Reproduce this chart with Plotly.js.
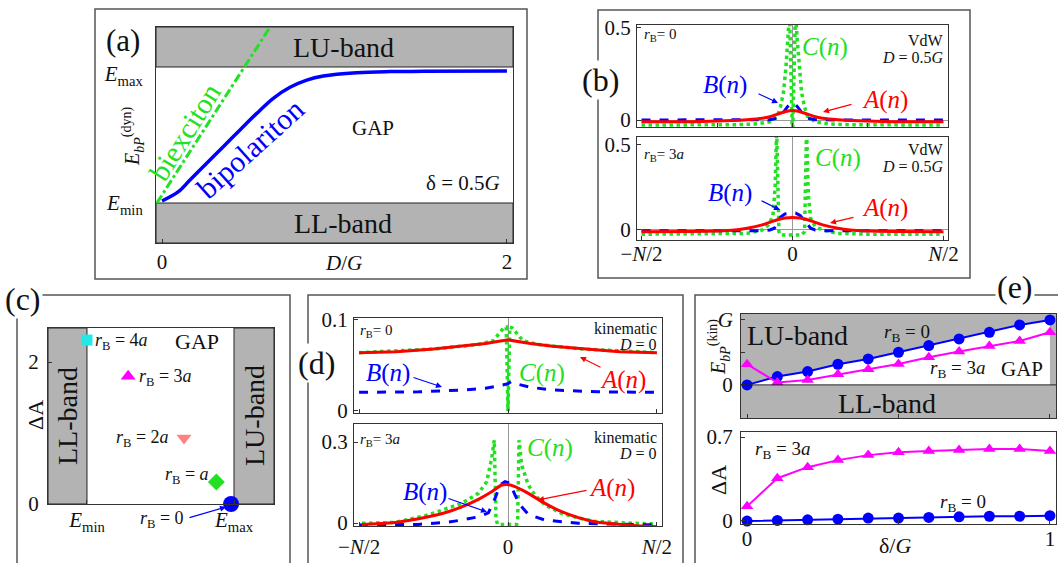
<!DOCTYPE html>
<html><head><meta charset="utf-8">
<script src="https://cdn.plot.ly/plotly-3.0.1.min.js"></script>
<style>html,body{margin:0;padding:0;background:#fff}#chart{width:1058px;height:563px}</style>
</head><body><div id="chart"></div>
<script>
// ================= DATA =================
// (a) dynamic bound-state energy vs D/G  (Emin = 0, Emax = 1)
const aD_bipol = [0, 0.095, 0.162, 0.259, 0.355, 0.452, 0.549, 0.645, 0.742, 0.839, 0.935, 1.128, 1.322, 1.515, 2.0];
const aE_bipol = [0.015, 0.083, 0.169, 0.292, 0.414, 0.537, 0.659, 0.77, 0.851, 0.904, 0.934, 0.958, 0.966, 0.968, 0.971];
const aD_biex = [-0.03, 0.65];
const aE_biex = [0.0, 1.34];
const aTickVals = [0, 0.95];

// (b) VdW, D = 0.5G ; n in units of N/2
const bTop_nA = [-1,-0.6,-0.4,-0.3,-0.2,-0.15,-0.1,-0.05,0,0.05,0.1,0.15,0.2,0.3,0.4,0.6,1];
const bTop_A  = [-0.01,-0.008,-0.003,0.002,0.01,0.018,0.032,0.045,0.052,0.045,0.032,0.018,0.01,0.002,-0.003,-0.008,-0.01];
const bTop_nB = [-1,-0.3,-0.15,-0.1,-0.07,-0.04,-0.02,0,0.02,0.04,0.07,0.1,0.15,0.3,1];
const bTop_B  = [0,0,0.002,0.01,0.03,0.065,0.085,0.092,0.085,0.065,0.03,0.01,0.002,0,0];
const bTop_nC = [-1,-0.6,-0.4,-0.25,-0.15,-0.1,-0.08,-0.06,-0.045,-0.03,-0.02,0,0.02,0.03,0.045,0.06,0.08,0.1,0.15,0.25,0.4,0.6,1];
const bTop_C  = [-0.027,-0.027,-0.026,-0.022,-0.01,0.02,0.07,0.15,0.27,0.45,0.6,-0.1,0.6,0.45,0.27,0.15,0.07,0.02,-0.01,-0.022,-0.026,-0.027,-0.027];

const bBot_nA = [-1,-0.6,-0.4,-0.3,-0.2,-0.15,-0.1,-0.05,0,0.05,0.1,0.15,0.2,0.3,0.4,0.6,1];
const bBot_A  = [-0.01,-0.008,-0.002,0.01,0.03,0.045,0.06,0.07,0.074,0.07,0.06,0.045,0.03,0.01,-0.002,-0.008,-0.01];
const bBot_nB = [-1,-0.5,-0.2,-0.15,-0.12,-0.1,-0.08,-0.05,-0.02,0,0.02,0.05,0.08,0.1,0.12,0.15,0.2,0.5,1];
const bBot_B  = [-0.005,-0.005,-0.004,0.0,0.01,0.04,0.075,0.095,0.1,0.1,0.1,0.085,0.055,0.03,0.01,0.0,-0.004,-0.005,-0.005];
const bBot_nC = [-1,-0.5,-0.3,-0.2,-0.16,-0.13,-0.115,-0.105,-0.09,-0.08,0,0.06,0.08,0.093,0.105,0.12,0.15,0.2,0.3,0.5,1];
const bBot_C  = [-0.025,-0.025,-0.02,0.0,0.03,0.08,0.25,0.6,-0.01,-0.03,-0.03,-0.03,-0.01,0.6,0.2,0.07,0.02,0.0,-0.02,-0.025,-0.025];

// (c) Delta A vs bound-state energy (Emin = 0, Emax = 1)
const cLabels = ['rB = 4a','rB = 3a','rB = 2a','rB = a','rB = 0'];
const cE  = [0.0, 0.28, 0.66, 0.88, 0.98];
const cDA = [2.31, 1.8, 0.93, 0.31, 0.0];

// (d) kinematic, D = 0
const dTop_nA = [-1,-0.75,-0.5,-0.3,-0.15,0,0.15,0.3,0.5,0.75,1];
const dTop_A  = [0.064,0.065,0.068,0.071,0.074,0.078,0.074,0.071,0.068,0.065,0.064];
const dTop_nB = [-1,-0.6,-0.3,-0.15,-0.05,0,0.02,0.05,0.15,0.3,0.6,1];
const dTop_B  = [0.0205,0.021,0.023,0.025,0.028,0.03,0.032,0.03,0.026,0.023,0.021,0.0205];
const dTop_nC = [-1,-0.5,-0.2,-0.1,-0.06,-0.03,-0.012,0,0.012,0.03,0.06,0.1,0.2,0.5,1];
const dTop_C  = [0.064,0.068,0.073,0.077,0.085,0.091,0.092,0,0.092,0.091,0.085,0.077,0.073,0.068,0.064];

const dBot_nA = [-0.982,-0.758,-0.535,-0.423,-0.311,-0.199,-0.11,-0.042,-0.009,0.047,0.136,0.248,0.36,0.472,0.584,0.807,1.0];
const dBot_A  = [-0.005,0.002,0.023,0.038,0.06,0.088,0.116,0.141,0.143,0.135,0.11,0.073,0.042,0.02,0.005,-0.007,-0.014];
const dBot_nB = [-1.0,-0.602,-0.423,-0.311,-0.199,-0.132,-0.087,-0.053,-0.02,0.013,0.047,0.081,0.136,0.248,0.472,1.0];
const dBot_B  = [-0.007,-0.005,0.002,0.011,0.023,0.038,0.091,0.141,0.153,0.148,0.104,0.067,0.032,0.011,-0.001,-0.007];
const dBot_nC = [-0.98,-0.758,-0.535,-0.423,-0.311,-0.199,-0.143,-0.11,-0.092,-0.081,-0.07,0.058,0.065,0.074,0.092,0.136,0.181,0.248,0.36,0.472,0.584,0.807,0.998];
const dBot_C  = [-0.001,0.002,0.03,0.052,0.073,0.11,0.153,0.239,0.307,0.017,-0.005,-0.005,0.017,0.307,0.215,0.141,0.104,0.067,0.036,0.019,0.006,0.0,-0.004];

// (e) vs delta/G
const eDelta   = [0,0.1,0.2,0.3,0.4,0.5,0.6,0.7,0.8,0.9,1.0];
const eE_rb0   = [0,0.128,0.205,0.318,0.4,0.503,0.605,0.708,0.81,0.923,1.0];
const eE_rb3   = [0.318,0.036,0.077,0.164,0.241,0.323,0.426,0.513,0.6,0.677,0.81];
const eDA_rb0  = [-0.005,0.0,0.005,0.01,0.02,0.02,0.025,0.03,0.035,0.035,0.04];
const eDA_rb3  = [0.118,0.354,0.447,0.506,0.548,0.573,0.582,0.59,0.6,0.6,0.582];

// ================= LAYOUT HELPERS =================
const W = 1058, H = 563;
const PX = x => x / W, PY = y => 1 - y / H;
const domX = (a, b) => [a / W, b / W];
const domY = (top, bot) => [1 - bot / H, 1 - top / H];
const SERIF = 'Liberation Serif, Times New Roman, serif';
const RED = '#ff0000', BLUE = '#0000ff', GREEN = '#22e022', MAG = '#ff00ff', GRAY = '#b3b3b3';

function axis(extra) {
  return Object.assign({
    showline: true, mirror: true, linecolor: '#333', linewidth: 1,
    showgrid: false, zeroline: false, ticks: 'inside', ticklen: 4, tickcolor: '#333',
    tickfont: {family: SERIF, size: 21, color: '#111'}, fixedrange: true, ticklabelstandoff: 4
  }, extra);
}
function T(x, y, text, size, color, extra) {
  return Object.assign({xref: 'paper', yref: 'paper', x: PX(x), y: PY(y), text: text, showarrow: false,
    font: {family: SERIF, size: size, color: color || '#111'}, xanchor: 'center', yanchor: 'middle'}, extra || {});
}
function ARROW(tx, ty, hx, hy, color) {
  return {xref: 'paper', yref: 'paper', x: PX(hx), y: PY(hy), ax: tx - hx, ay: ty - hy, text: '',
    showarrow: true, arrowhead: 2, arrowsize: 1, arrowwidth: 1.2, arrowcolor: color};
}
const rB = s => '<i>r</i><sub>B</sub>' + s;
const fn = L => '<i>' + L + '</i>(<i>n</i>)';

// ================= TRACES =================
const traces = [];
function line(x, y, xa, ya, color, width, dash, extra) {
  traces.push(Object.assign({type: 'scatter', mode: 'lines', x: x, y: y, xaxis: xa, yaxis: ya,
    line: {color: color, width: width, dash: dash || 'solid'}, hoverinfo: 'skip', showlegend: false}, extra || {}));
}
// (a)
line(aD_biex, aE_biex, 'x', 'y', GREEN, 3, 'dashdot');
line(aD_bipol, aE_bipol, 'x', 'y', BLUE, 3.5, 'solid', {line: {color: BLUE, width: 3.5, shape: 'spline'}});
// (b)
line(bTop_nC, bTop_C, 'x2', 'y2', GREEN, 3.5, 'dot');
line(bTop_nB, bTop_B, 'x2', 'y2', BLUE, 3, 'dash');
line(bTop_nA, bTop_A, 'x2', 'y2', RED, 3, 'solid', {line: {color: RED, width: 3, shape: 'spline'}});
line(bBot_nC, bBot_C, 'x3', 'y3', GREEN, 3.5, 'dot');
line(bBot_nB, bBot_B, 'x3', 'y3', BLUE, 3, 'dash');
line(bBot_nA, bBot_A, 'x3', 'y3', RED, 3, 'solid', {line: {color: RED, width: 3, shape: 'spline'}});
// (c)
const cSym = ['square', 'triangle-up', 'triangle-down', 'diamond', 'circle'];
const cCol = ['#22e8e8', MAG, '#ff8080', GREEN, BLUE];
const cSize = [11, 13, 13, 13, 16];
for (let i = 0; i < cE.length; i++) {
  traces.push({type: 'scatter', mode: 'markers', x: [cE[i]], y: [cDA[i]], xaxis: 'x4', yaxis: 'y4', name: cLabels[i],
    marker: {symbol: cSym[i], color: cCol[i], size: cSize[i]}, cliponaxis: false, hoverinfo: 'skip', showlegend: false});
}
// (d)
line(dTop_nC, dTop_C, 'x5', 'y5', GREEN, 3.5, 'dot');
line(dTop_nB, dTop_B, 'x5', 'y5', BLUE, 3, 'dash');
line(dTop_nA, dTop_A, 'x5', 'y5', RED, 3, 'solid');
line(dBot_nC, dBot_C, 'x6', 'y6', GREEN, 3.5, 'dot');
line(dBot_nB, dBot_B, 'x6', 'y6', BLUE, 3, 'dash');
line(dBot_nA, dBot_A, 'x6', 'y6', RED, 3, 'solid', {line: {color: RED, width: 3, shape: 'spline'}});
// (e) top : white GAP between 0 and the rB=0 line
traces.push({type: 'scatter', mode: 'lines+markers', x: eDelta, y: eE_rb0, xaxis: 'x7', yaxis: 'y7',
  fill: 'tozeroy', fillcolor: '#ffffff', line: {color: BLUE, width: 2}, marker: {color: BLUE, size: 11, symbol: 'circle'},
  cliponaxis: false, hoverinfo: 'skip', showlegend: false});
traces.push({type: 'scatter', mode: 'lines+markers', x: eDelta, y: eE_rb3, xaxis: 'x7', yaxis: 'y7',
  line: {color: MAG, width: 2}, marker: {color: MAG, size: 11, symbol: 'triangle-up'},
  cliponaxis: false, hoverinfo: 'skip', showlegend: false});
traces.push({type: 'scatter', mode: 'lines+markers', x: eDelta, y: eDA_rb3, xaxis: 'x8', yaxis: 'y8',
  line: {color: MAG, width: 2}, marker: {color: MAG, size: 11, symbol: 'triangle-up'},
  cliponaxis: false, hoverinfo: 'skip', showlegend: false});
traces.push({type: 'scatter', mode: 'lines+markers', x: eDelta, y: eDA_rb0, xaxis: 'x8', yaxis: 'y8',
  line: {color: BLUE, width: 2}, marker: {color: BLUE, size: 11, symbol: 'circle'},
  cliponaxis: false, hoverinfo: 'skip', showlegend: false});

// ================= AXES =================
const NL = ['\u2212<i>N</i>/2', '0', '<i>N</i>/2'];
const emT = ['<i>E</i><sub>min</sub>', '<i>E</i><sub>max</sub>'];
const yA = [-0.294, 1.294];
const xC = [-0.265, 1.272];
const layout = {
  width: W, height: H, margin: {l: 0, r: 0, t: 0, b: 0}, paper_bgcolor: '#fff', plot_bgcolor: 'rgba(0,0,0,0)',
  showlegend: false, font: {family: SERIF},
  // (a)
  xaxis: axis({domain: domX(156, 513), range: [-0.035, 2.035], tickvals: [0, 2], ticktext: ['0', '2'], anchor: 'y', ticklabelstandoff: 0}),
  yaxis: axis({domain: domY(27, 243), range: yA, tickvals: aTickVals, ticktext: emT, anchor: 'x', ticks: '', ticklabelstandoff: 8}),
  // (b)
  xaxis2: axis({domain: domX(637, 948), range: [-1.03, 1.03], tickvals: [-0.5, 0, 0.5], showticklabels: false, anchor: 'y2', zeroline: true, zerolinecolor: '#999', zerolinewidth: 1}),
  yaxis2: axis({domain: domY(25, 127), range: [-0.038, 0.516], tickvals: [0, 0.5], ticktext: ['0', '0.5'], anchor: 'x2', zeroline: true, zerolinecolor: '#999', zerolinewidth: 1, ticklabelstandoff: 1}),
  xaxis3: axis({domain: domX(637, 948), range: [-1.03, 1.03], tickvals: [-1, 0, 1], ticktext: NL, anchor: 'y3', zeroline: true, zerolinecolor: '#999', zerolinewidth: 1, ticklabelstandoff: -5}),
  yaxis3: axis({domain: domY(137, 240), range: [-0.059, 0.547], tickvals: [0, 0.5], ticktext: ['0', '0.5'], anchor: 'x3', zeroline: true, zerolinecolor: '#999', zerolinewidth: 1, ticklabelstandoff: 1}),
  // (c)
  xaxis4: axis({domain: domX(48, 274), range: xC, tickvals: [0, 1], ticktext: emT, anchor: 'y4', ticklabelstandoff: -3}),
  yaxis4: axis({domain: domY(328, 504), range: [0, 2.48], tickvals: [0, 2], ticktext: ['0', '2'], anchor: 'x4'}),
  // (d)
  xaxis5: axis({domain: domX(354, 662), range: [-1.034, 1.034], tickvals: [-1, 0, 1], showticklabels: false, anchor: 'y5', zeroline: true, zerolinecolor: '#999', zerolinewidth: 1}),
  yaxis5: axis({domain: domY(318, 413), range: [-0.0022, 0.102], tickvals: [0, 0.1], ticktext: ['0', '0.1'], anchor: 'x5', ticklabelstandoff: 1}),
  xaxis6: axis({domain: domX(354, 662), range: [-1.034, 1.034], tickvals: [-1, 0, 1], ticktext: NL, anchor: 'y6', zeroline: true, zerolinecolor: '#999', zerolinewidth: 1, ticklabelstandoff: 2}),
  yaxis6: axis({domain: domY(424, 526), range: [-0.011, 0.367], tickvals: [0, 0.3], ticktext: ['0', '0.3'], anchor: 'x6', ticklabelstandoff: 1}),
  // (e)
  xaxis7: axis({domain: domX(741, 1056), range: [-0.02, 1.02], tickvals: [0, 0.5, 1], showticklabels: false, anchor: 'y7'}),
  yaxis7: axis({domain: domY(314, 418), range: [-0.51, 1.092], tickvals: [0, 0.5, 1], ticktext: ['0', '', '<i>G</i>'], anchor: 'x7', ticklabelstandoff: 3}),
  xaxis8: axis({domain: domX(741, 1056), range: [-0.02, 1.02], tickvals: [0, 0.5, 1], ticktext: ['0', '', '1'], anchor: 'y8', ticklabelstandoff: -4}),
  yaxis8: axis({domain: domY(432, 524), range: [-0.03, 0.742], tickvals: [0, 0.7], ticktext: ['0', '0.7'], anchor: 'x8', ticklabelstandoff: 3}),
  shapes: [],
  annotations: []
};

// ================= SHAPES =================
const S = layout.shapes;
const frame = {type: 'rect', xref: 'paper', yref: 'paper', line: {color: '#555', width: 1.5}, fillcolor: 'rgba(0,0,0,0)', layer: 'below'};
function paperRect(x0, y0, x1, y1) { S.push(Object.assign({}, frame, {x0: PX(x0), x1: PX(x1), y0: PY(y1), y1: PY(y0)})); }
paperRect(95, 9, 527, 279);     // (a)
paperRect(598, 10, 970, 278);   // (b)
paperRect(17, 295, 290, 600);   // (c)
paperRect(308, 295, 683, 600);  // (d)
paperRect(695, 295, 1100, 600); // (e)
// (a) bands
S.push({type: 'rect', xref: 'x domain', yref: 'y', x0: 0, x1: 1, y0: 1, y1: yA[1], fillcolor: GRAY, line: {color: '#222', width: 1}, layer: 'below'});
S.push({type: 'rect', xref: 'x domain', yref: 'y', x0: 0, x1: 1, y0: yA[0], y1: 0, fillcolor: GRAY, line: {color: '#222', width: 1}, layer: 'below'});
// (c) bands
S.push({type: 'rect', xref: 'x4', yref: 'y4 domain', x0: xC[0], x1: 0, y0: 0, y1: 1, fillcolor: GRAY, line: {color: '#222', width: 1}, layer: 'below'});
S.push({type: 'rect', xref: 'x4', yref: 'y4 domain', x0: 1, x1: xC[1], y0: 0, y1: 1, fillcolor: GRAY, line: {color: '#222', width: 1}, layer: 'below'});
// (e) top: grey bands behind, GAP is white fill of the rB=0 trace
S.push({type: 'rect', xref: 'x7 domain', yref: 'y7 domain', x0: 0, x1: 1, y0: 0, y1: 1, fillcolor: GRAY, line: {width: 0}, layer: 'below'});
S.push({type: 'line', xref: 'x7 domain', yref: 'y7', x0: 0, x1: 1, y0: 0, y1: 0, line: {color: '#222', width: 1}, layer: 'above'});

// ================= ANNOTATIONS =================
const A = layout.annotations;
// (a)
A.push(T(123, 41, '(a)', 31));
A.push(T(343, 47, 'LU-band', 28));
A.push(T(343, 223, 'LL-band', 28));
A.push(T(373, 128, 'GAP', 21));
A.push(T(463, 183, '\u03b4 = 0.5<i>G</i>', 21));
A.push(T(250, 148, 'bipolariton', 30, BLUE, {textangle: -42}));
A.push(T(185, 132, 'biexciton', 29, GREEN, {textangle: -58}));
A.push(T(133, 137, '<i>E</i><sub><i>bP</i></sub><sup>(dyn)</sup>', 20, '#111', {textangle: -90}));
A.push(T(343, 263, '<i>D</i>/<i>G</i>', 21));
// (b)
A.push(T(600, 80, '(b)', 32, '#111', {bgcolor: '#fff'}));
A.push(T(642, 35, rB('= 0'), 15, '#111', {xanchor: 'left'}));
A.push(T(946, 41, 'VdW', 16, '#111', {xanchor: 'right'}));
A.push(T(946, 58, '<i>D</i> = 0.5<i>G</i>', 16, '#111', {xanchor: 'right'}));
A.push(T(825, 47, fn('C'), 25, GREEN));
A.push(T(725, 85, fn('B'), 25, BLUE));
A.push(ARROW(757, 93, 778, 103, BLUE));
A.push(T(885, 100, fn('A'), 25, RED));
A.push(ARROW(853, 104, 823, 112, RED));
A.push(T(642, 155, rB('= 3<i>a</i>'), 15, '#111', {xanchor: 'left'}));
A.push(T(946, 149, 'VdW', 16, '#111', {xanchor: 'right'}));
A.push(T(946, 166, '<i>D</i> = 0.5<i>G</i>', 16, '#111', {xanchor: 'right'}));
A.push(T(838, 158, fn('C'), 25, GREEN));
A.push(T(730, 193, fn('B'), 25, BLUE));
A.push(ARROW(760, 200, 780, 210, BLUE));
A.push(T(885, 208, fn('A'), 25, RED));
A.push(ARROW(855, 217, 830, 223, RED));
// (c)
A.push(T(23, 299, '(c)', 32, '#111', {bgcolor: '#fff'}));
A.push(T(197, 341, 'GAP', 22));
A.push(T(93, 341, rB(' = 4<i>a</i>'), 18, '#111', {xanchor: 'left'}));
A.push(T(137, 377, rB(' = 3<i>a</i>'), 18, '#111', {xanchor: 'left'}));
A.push(T(171, 438, rB(' = 2<i>a</i>'), 18, '#111', {xanchor: 'right'}));
A.push(T(163, 475, rB(' = <i>a</i>'), 18, '#111', {xanchor: 'left'}));
A.push(T(186, 519, rB(' = 0'), 18, '#111', {xanchor: 'right'}));
A.push(ARROW(188, 518, 226, 507, BLUE));
A.push(T(67, 416, 'LL-band', 28, '#111', {textangle: -90}));
A.push(T(254, 416, 'LU-band', 28, '#111', {textangle: -90}));
A.push(T(35, 415, '\u0394A', 22, '#111', {textangle: -90}));
// (d)
A.push(T(316, 363, '(d)', 32, '#111', {bgcolor: '#fff'}));
A.push(T(358, 331, rB('= 0'), 15, '#111', {xanchor: 'left'}));
A.push(T(659, 328, 'kinematic', 16, '#111', {xanchor: 'right'}));
A.push(T(659, 344, '<i>D</i> = 0', 16, '#111', {xanchor: 'right'}));
A.push(T(388, 373, fn('B'), 25, BLUE));
A.push(ARROW(412, 377, 442, 387, BLUE));
A.push(T(542, 373, fn('C'), 25, GREEN));
A.push(T(623, 380, fn('A'), 25, RED));
A.push(ARROW(602, 368, 580, 357, RED));
A.push(T(358, 440, rB('= 3<i>a</i>'), 15, '#111', {xanchor: 'left'}));
A.push(T(659, 437, 'kinematic', 16, '#111', {xanchor: 'right'}));
A.push(T(659, 453, '<i>D</i> = 0', 16, '#111', {xanchor: 'right'}));
A.push(T(550, 448, fn('C'), 25, GREEN));
A.push(T(425, 492, fn('B'), 25, BLUE));
A.push(ARROW(447, 498, 487, 512, BLUE));
A.push(T(612, 488, fn('A'), 25, RED));
A.push(ARROW(588, 490, 538, 500, RED));
// (e)
A.push(T(1015, 287, '(e)', 32, '#111', {bgcolor: '#fff'}));
A.push(T(797, 335, 'LU-band', 28));
A.push(T(887, 403, 'LL-band', 28));
A.push(T(1022, 369, 'GAP', 21));
A.push(T(907, 333, rB(' = 0'), 19));
A.push(T(958, 369, rB(' = 3<i>a</i>'), 19));
A.push(T(719, 347, '<i>E</i><sub><i>bP</i></sub><sup>(kin)</sup>', 20, '#111', {textangle: -90}));
A.push(T(719, 480, '\u0394A', 22, '#111', {textangle: -90}));
A.push(T(783, 450, rB(' = 3<i>a</i>'), 19));
A.push(T(963, 503, rB(' = 0'), 19));
A.push(T(895, 545, '\u03b4/<i>G</i>', 22));

Plotly.newPlot('chart', traces, layout, {staticPlot: true, displayModeBar: false});
</script>
</body></html>
